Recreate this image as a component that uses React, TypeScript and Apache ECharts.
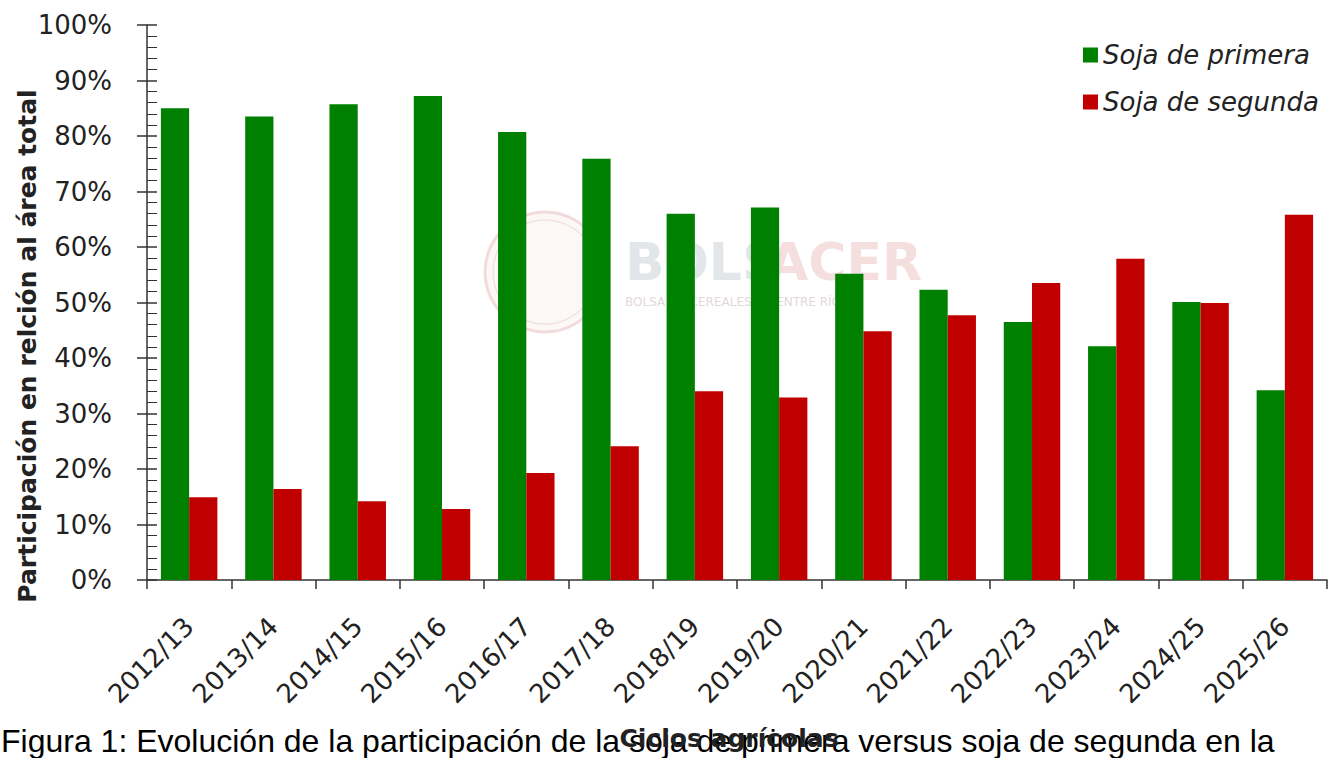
import React, { useEffect, useRef } from "react";
import * as echarts from "echarts";

const categories = [
  "2012/13", "2013/14", "2014/15", "2015/16", "2016/17", "2017/18", "2018/19",
  "2019/20", "2020/21", "2021/22", "2022/23", "2023/24", "2024/25", "2025/26",
];
const sojaPrimera = [85.0, 83.5, 85.7, 87.2, 80.7, 75.9, 66.0, 67.1, 55.2, 52.3, 46.5, 42.1, 50.1, 34.2];
const sojaSegunda = [14.9, 16.4, 14.2, 12.8, 19.3, 24.1, 34.0, 32.9, 44.8, 47.7, 53.5, 57.9, 49.9, 65.8];
const yTicks = { min: 0, max: 100, interval: 10 };

const FONT = "'DejaVu Sans', sans-serif";

export default function App() {
  const ref = useRef<HTMLDivElement>(null);
  useEffect(() => {
    document.body.style.margin = "0";
    const chart = echarts.init(ref.current!, null, { renderer: "svg" });
    chart.setOption({
      animation: false,
      backgroundColor: "#ffffff",
      textStyle: { fontFamily: FONT },
      grid: { left: 147, right: 10, top: 25, bottom: 178, containLabel: false },
      legend: {
        orient: "vertical",
        right: 13,
        top: 37,
        itemWidth: 15,
        itemHeight: 15,
        itemGap: 21,
        icon: "rect",
        textStyle: { fontSize: 26, lineHeight: 26, fontStyle: "italic", color: "#222", fontFamily: FONT },
        data: ["Soja de primera", "Soja de segunda"],
      },
      xAxis: {
        type: "category",
        data: categories,
        axisLine: { lineStyle: { color: "#333", width: 1.5 } },
        axisTick: { show: true, alignWithLabel: false, length: 9, lineStyle: { color: "#333", width: 1.5 } },
        axisLabel: { rotate: 45, fontSize: 26, color: "#222", margin: 42, interval: 0, fontFamily: FONT },
        splitLine: { show: false },
      },
      yAxis: [
        {
          type: "value",
          min: yTicks.min,
          max: yTicks.max,
          interval: yTicks.interval,
          position: "left",
          axisLine: { show: true, lineStyle: { color: "#333", width: 1.5 } },
          axisTick: { show: true, inside: true, length: 10, lineStyle: { color: "#333", width: 1.5 } },
          minorTick: { show: true, splitNumber: 5, length: 10, lineStyle: { color: "#333", width: 1 } },
          axisLabel: { formatter: "{value}%", fontSize: 26, color: "#222", margin: 35, fontFamily: FONT },
          splitLine: { show: false },
        },
        {
          type: "value",
          min: yTicks.min,
          max: yTicks.max,
          interval: yTicks.interval,
          position: "left",
          offset: 0,
          axisLine: { show: false },
          axisTick: { show: true, inside: false, length: 10, lineStyle: { color: "#333", width: 1.5 } },
          axisLabel: { show: false },
          splitLine: { show: false },
        },
      ],
      series: [
        {
          name: "Soja de primera",
          type: "bar",
          data: sojaPrimera,
          itemStyle: { color: "#008000" },
          barGap: "0%",
          barCategoryGap: "33%",
        },
        {
          name: "Soja de segunda",
          type: "bar",
          data: sojaSegunda,
          itemStyle: { color: "#c00000" },
          barGap: "0%",
          barCategoryGap: "33%",
        },
      ],
      graphic: [
        {
          type: "group",
          z: 100,
          silent: true,
          children: [
            { type: "circle", shape: { cx: 545, cy: 272, r: 60 }, style: { fill: "rgba(240,200,200,0.12)", stroke: "rgba(220,160,160,0.35)", lineWidth: 3 } },
            { type: "circle", shape: { cx: 545, cy: 272, r: 52 }, style: { fill: "none", stroke: "rgba(220,160,160,0.25)", lineWidth: 1.5 } },
            { type: "text", x: 625, y: 262, style: { text: "BOLS", font: "bold 52px " + FONT, fill: "rgba(200,206,212,0.5)", textVerticalAlign: "middle" } },
            { type: "text", x: 768, y: 262, style: { text: "ACER", font: "bold 52px " + FONT, fill: "rgba(235,190,190,0.5)", textVerticalAlign: "middle" } },
            { type: "text", x: 625, y: 302, style: { text: "BOLSA DE CEREALES DE ENTRE RÍOS", font: "12px " + FONT, fill: "rgba(200,180,180,0.55)", textVerticalAlign: "middle" } },
          ],
        },
        {
          type: "text",
          x: 27,
          y: 346,
          rotation: Math.PI / 2,
          style: {
            text: "Participación en relción al área total",
            font: "bold 25px " + FONT,
            fill: "#222",
            textAlign: "center",
            textVerticalAlign: "middle",
          },
        },
        {
          type: "text",
          x: 1,
          y: 757,
          style: {
            text: "Figura 1: Evolución de la participación de la soja de primera versus soja de segunda en la",
            font: "32px 'Liberation Sans', Arial, sans-serif",
            fill: "#000",
            textAlign: "left",
            textVerticalAlign: "bottom",
          },
        },
        {
          type: "text",
          x: 729,
          y: 738,
          style: {
            text: "Ciclos agrícolas",
            font: "bold 25px " + FONT,
            fill: "#222",
            textAlign: "center",
            textVerticalAlign: "middle",
          },
        },
      ],
    });
    return () => chart.dispose();
  }, []);
  return <div ref={ref} style={{ width: 1337, height: 758, position: "absolute", left: 0, top: 0 }} />;
}
